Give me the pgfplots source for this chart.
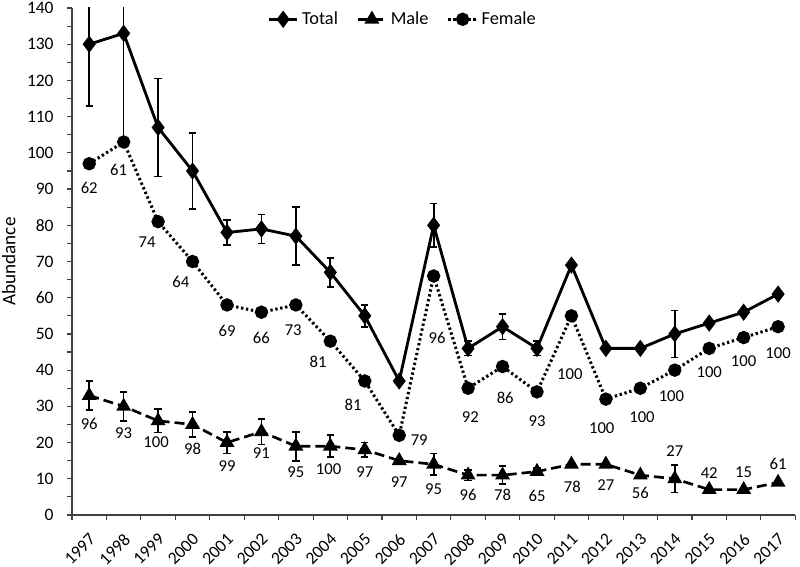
\documentclass[border=0pt]{standalone}
\usepackage{pgfplots}
\usepackage{pgfplotstable}
\pgfplotsset{compat=1.18}
\usepackage{fontspec}
\setmainfont{Carlito}

\pgfplotstableread{
x y ey
0 130 17
1 133 30
2 107 13.5
3 95 10.5
4 78 3.5
5 79 4
6 77 8
7 67 4
8 55 3
9 37 0
10 80 6
11 46 2
12 52 3.5
13 46 2
14 69 0
15 46 0
16 46 0
17 50 6.5
18 53 0
19 56 0
20 61 0
}\totaltab

\pgfplotstableread{
x y ey lab dx dy
0 33 4 96 0 -17
1 30 4 93 0 -15.9
2 26 3.2 100 -1.2 -12.6
3 25 3.5 98 0 -14.6
4 20 3 99 0 -13.9
5 23 3.5 91 0 -12.8
6 19 4 95 0 -15.7
7 19 3 100 -1 -13.7
8 18 2 97 0 -13.5
9 15 0 97 0 -13
10 14 3 95 0 -15.2
11 11 1.5 96 0 -12
12 11 2.5 78 0 -12
13 12 1 65 0 -14.6
14 14 0 78 0.6 -13.5
15 14 0 27 0 -12.4
16 11 0 56 0 -10.9
17 10 3.8 27 0 16.5
18 7 0 42 0 10
19 7 0 15 0 10.7
20 9 0 61 0 10.9
}\maletab

\pgfplotstableread{
x y lab dx dy
0 97 62 0 -14.4
1 103 61 -3.1 -17
2 81 74 -6.6 -12
3 70 64 -7 -12
4 58 69 0 -15.5
5 56 66 0 -15.5
6 58 73 -1.6 -15
7 48 81 -7.4 -12.6
8 37 81 -7 -14.4
9 22 79 12 -2.6
10 66 96 2 -37.4
11 35 92 1.4 -17.4
12 41 86 1.6 -19
13 34 93 0 -17.6
14 55 100 -1 -34.8
15 32 100 -2.5 -17.4
16 35 100 1 -17.4
17 40 100 -2 -15.7
18 46 100 0 -14.4
19 49 100 0 -14.4
20 52 100 0 -15.9
}\femaletab

\begin{document}
\begin{tikzpicture}
\begin{axis}[
  width=434pt, height=304.2pt, scale only axis,
  xmin=-0.5, xmax=20.5, ymin=0, ymax=140,
  axis lines=left,
  axis line style={-, line width=0.8pt, black!75},
  xtick={0,...,20},
  xticklabels={1997,1998,1999,2000,2001,2002,2003,2004,2005,2006,2007,2008,2009,2010,2011,2012,2013,2014,2015,2016,2017},
  minor xtick={-0.5,0.5,...,20.5},
  ytick={0,10,...,140},
  minor ytick={5,15,...,135},
  tick align=outside,
  major tick length=3pt, minor tick length=3pt,
  every tick/.style={black!75, line width=0.7pt},
  x tick style={draw=none},
  minor x tick style={draw=black!75, line width=0.7pt},
  xticklabel style={xshift=-0.5pt, yshift=-5.8pt, rotate=45, anchor=north east, inner sep=1pt, font=\fontsize{10.5}{12}\selectfont},
  yticklabel style={font=\fontsize{10.5}{12}\selectfont, xshift=-4.5pt},
  /pgf/number format/assume math mode=true,
  ylabel={Abundance},
  ylabel style={font=\fontsize{11.5}{13}\selectfont},
  legend style={at={(0.458,1)}, anchor=north, yshift=2pt, draw=none, fill=none, legend columns=-1,
    font=\fontsize{11}{13}\selectfont, /tikz/every even column/.append style={column sep=9pt}},
  nodes near coords style={font=\fontsize{10}{12}\selectfont, anchor=center, inner sep=0pt},
  error bars/error bar style={line width=1pt, black, solid},
  error bars/error mark options={rotate=90, mark size=2.2pt, line width=1pt, black, solid},
]
\addplot[black, line width=1.7pt, mark=diamond*, mark size=3.8pt, mark options={solid},
  error bars/.cd, y dir=both, y explicit]
  table[x=x, y=y, y error=ey] {\totaltab};
\addlegendentry{Total}
\addplot[black, line width=1.6pt, dash pattern=on 6pt off 3pt, mark=triangle*, mark size=3.6pt, mark options={solid},
  point meta=explicit symbolic, nodes near coords,
  visualization depends on={\thisrow{dx}\as\mydx},
  visualization depends on={\thisrow{dy}\as\mydy},
  every node near coord/.append style={xshift=\mydx pt, yshift=\mydy pt},
  error bars/.cd, y dir=both, y explicit]
  table[x=x, y=y, y error=ey, meta=lab] {\maletab};
\addlegendentry{Male}
\addplot[black, line width=1.8pt, dash pattern=on 1.4pt off 1.6pt, mark=*, mark size=3.1pt, mark options={solid},
  point meta=explicit symbolic, nodes near coords,
  visualization depends on={\thisrow{dx}\as\mydx},
  visualization depends on={\thisrow{dy}\as\mydy},
  every node near coord/.append style={xshift=\mydx pt, yshift=\mydy pt}]
  table[x=x, y=y, meta=lab] {\femaletab};
\addlegendentry{Female}
\end{axis}
\pgfresetboundingbox
\path[use as bounding box] (-43.2pt,-31.2pt) rectangle (436.8pt,309pt);
\end{tikzpicture}
\end{document}
